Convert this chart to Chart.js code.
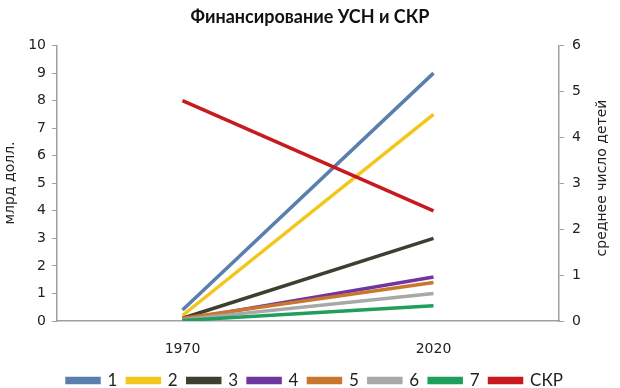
<!DOCTYPE html>
<html>
<head>
<meta charset="utf-8">
<script src="https://cdn.jsdelivr.net/npm/chart.js@4.4.0/dist/chart.umd.min.js"></script>
<style>
  html, body { margin: 0; padding: 0; background: #fff; }
  #wrap { width: 620px; height: 388px; }
</style>
</head>
<body>
<div id="wrap"><canvas id="chart"></canvas></div>
<script>
const years = ['1970', '2020'];
const series1 = [0.4, 9.0];
const series2 = [0.2, 7.5];
const series3 = [0.1, 3.0];
const series4 = [0.05, 1.6];
const series5 = [0.1, 1.4];
const series6 = [0.05, 1.0];
const series7 = [0.02, 0.55];
const skr = [4.8, 2.4];
const seriesNames = ['1', '2', '3', '4', '5', '6', '7', 'СКР'];
const leftTicks = [0, 1, 2, 3, 4, 5, 6, 7, 8, 9, 10];
const rightTicks = [0, 1, 2, 3, 4, 5, 6];

const colors = ['#5a7fae', '#f3c61a', '#3c4030', '#6f35a0', '#c9772f', '#a8a8a8', '#1f9e5c', '#c8191e'];
const allSeries = [series1, series2, series3, series4, series5, series6, series7, skr];

const datasets = allSeries.map((vals, i) => ({
    label: seriesNames[i],
    data: vals,
    borderColor: colors[i],
    backgroundColor: colors[i],
    borderWidth: 3.5,
    pointRadius: 0,
    yAxisID: i === 7 ? 'y1' : 'y',
    order: 10 - i,   // later series on top, like the original
}));

// axis titles drawn by hand so the right one reads bottom-to-top like the original
const axisTitles = {
    id: 'axisTitles',
    afterDraw(chart) {
        const ctx = chart.ctx;
        [['млрд долл.', 10, 183], ['среднее число детей', 602, 178]].forEach(([txt, x, y]) => {
            ctx.save();
            ctx.fillStyle = '#222';
            ctx.font = '14px "DejaVu Sans"';
            ctx.textAlign = 'center';
            ctx.textBaseline = 'middle';
            ctx.translate(x, y);
            ctx.rotate(-Math.PI / 2);
            ctx.fillText(txt, 0, 0);
            ctx.restore();
        });
    }
};

// nudge the legend down and slightly right after layout
const legendShift = {
    id: 'legendShift',
    afterLayout(chart) {
        const l = chart.legend;
        l.top += 5; l.bottom += 5;
        l.left += 5; l.right += 5;
    }
};

const tickFont = {family: '"DejaVu Sans"', size: 14};

new Chart(document.getElementById('chart'), {
    type: 'line',
    data: {labels: years, datasets: datasets},
    options: {
        responsive: true,
        maintainAspectRatio: false,
        animation: false,
        layout: {padding: {left: 0, right: 0, top: 0, bottom: -6}},
        plugins: {
            title: {
                display: true,
                text: 'Финансирование УСН и СКР',
                color: '#111',
                font: {family: 'Lato', size: 18, weight: 'bold'},
                padding: {top: 6, bottom: 18},
            },
            legend: {
                position: 'bottom',
                labels: {
                    boxWidth: 32,
                    boxHeight: 4,
                    padding: 10,
                    color: '#222',
                    font: {family: 'Lato', size: 17},
                    sort: (a, b) => a.datasetIndex - b.datasetIndex,
                },
            },
            tooltip: {enabled: false},
        },
        scales: {
            x: {
                offset: true,
                grid: {display: false},
                border: {color: '#a0a0a0', width: 1.5},
                ticks: {color: '#222', font: tickFont, padding: 12},
                afterFit: s => { s.height = 36; },
            },
            y: {
                position: 'left',
                min: 0,
                max: 10,
                afterBuildTicks: s => { s.ticks = leftTicks.map(v => ({value: v})); },
                grid: {drawOnChartArea: false, drawTicks: true, tickLength: 5, color: '#a0a0a0'},
                border: {color: '#a0a0a0', width: 1.5},
                ticks: {color: '#222', font: tickFont, padding: 6},
                afterFit: s => { s.width = 57; },
            },
            y1: {
                position: 'right',
                min: 0,
                max: 6,
                afterBuildTicks: s => { s.ticks = rightTicks.map(v => ({value: v})); },
                grid: {drawOnChartArea: false, drawTicks: true, tickLength: 5, color: '#a0a0a0'},
                border: {color: '#a0a0a0', width: 1.5},
                ticks: {color: '#222', font: tickFont, padding: 8},
                afterFit: s => { s.width = 61; },
            },
        },
    },
    plugins: [axisTitles, legendShift],
});
</script>
</body>
</html>
